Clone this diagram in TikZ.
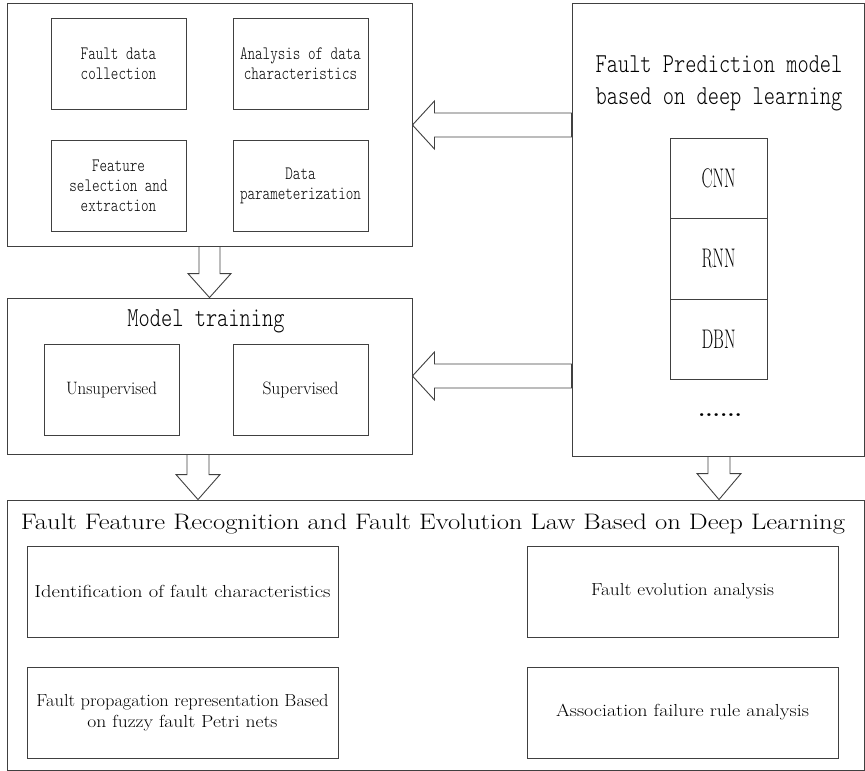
\documentclass[tikz,border=0pt]{standalone}
\usepackage{graphicx}
\usetikzlibrary{calc}

\newcommand{\narrow}[2]{\scalebox{#1}[1]{#2}}
\newcommand{\squeeze}[2]{\resizebox{#1}{\height}{#2}}

\begin{document}
\begin{tikzpicture}[x=1bp,y=-1bp]

\tikzstyle{every node}=[inner sep=0pt,anchor=center,align=center];
\tikzstyle{frame}=[draw=black!75,line width=0.9bp];
\tikzstyle{cell}=[frame,minimum width=135bp,minimum height=91bp];
\tikzstyle{wide}=[frame,minimum width=311bp,minimum height=91bp,font=\fontsize{17.5}{21}\selectfont];
\tikzstyle{net}=[frame,minimum width=97bp,minimum height=80.5bp,font=\fontsize{27}{30}\selectfont];
\tikzstyle{mono}=[font=\ttfamily\fontseries{l}\fontsize{19}{20}\selectfont];
\tikzstyle{hollow}=[draw=black!75,line width=0.9bp];

\useasboundingbox (0,0) rectangle (865,771);

% Data preparation
\node[frame,minimum width=405bp,minimum height=243bp] (prep) at (209.5,124.5) {};
\node[cell,mono] (collect) at (118.5,63.5) {\narrow{0.76}{Fault data}\\\narrow{0.76}{collection}};
\node[cell,mono] (analyse) at (300.5,63.5) {\narrow{0.76}{Analysis of data}\\\narrow{0.76}{characteristics}};
\node[cell,mono] (select) at (118.5,185.5) {\narrow{0.76}{Feature}\\\narrow{0.76}{selection and}\\\narrow{0.76}{extraction}};
\node[cell,mono] (param) at (300.5,185.5) {\narrow{0.76}{Data}\\\narrow{0.76}{parameterization}};

% Prediction model
\node[frame,minimum width=292bp,minimum height=453bp] (pred) at (718,229.5) {};
\node[font=\ttfamily\fontseries{l}\fontsize{27.5}{32}\selectfont] (predtitle) at (719,83) {\narrow{0.78}{Fault Prediction model}\\\narrow{0.78}{based on deep learning}};
\node[net] (cnn) at (718.5,178.5) {\squeeze{34bp}{CNN}};
\node[net] (rnn) at (718.5,259) {\squeeze{34bp}{RNN}};
\node[net] (dbn) at (718.5,339.5) {\squeeze{34bp}{DBN}};
\node[font=\fontsize{20}{20}\selectfont\bfseries] (more) at (720,415) {\squeeze{44bp}{......}};

% Model training
\node[frame,minimum width=405bp,minimum height=156bp] (train) at (209.5,376) {};
\node[font=\ttfamily\fontseries{l}\fontsize{27.5}{30}\selectfont] (traintitle) at (206,321) {\narrow{0.78}{Model training}};
\node[cell,font=\fontsize{18}{20}\selectfont] (unsup) at (111.5,390) {\squeeze{91bp}{Unsupervised}};
\node[cell,font=\fontsize{18}{20}\selectfont] (sup) at (300.5,390) {\squeeze{76bp}{Supervised}};

% Recognition and evolution
\node[frame,minimum width=857bp,minimum height=270bp] (fault) at (435.5,635) {};
\node[font=\fontsize{22.5}{26}\selectfont] (faulttitle) at (433,524) {\squeeze{824bp}{Fault Feature Recognition and Fault Evolution Law Based on Deep Learning}};
\node[wide] (ident) at (182.5,591.5) {\squeeze{296bp}{Identification of fault characteristics}};
\node[wide] (evol) at (682.5,591.5) {\squeeze{183bp}{Fault evolution analysis}};
\node[wide] (propag) at (182.5,712.5) {\squeeze{292bp}{Fault propagation representation Based}\\\squeeze{190bp}{on fuzzy fault Petri nets}};
\node[wide] (assoc) at (682.5,712.5) {\squeeze{253bp}{Association failure rule analysis}};

% Hollow arrows
\draw[hollow] (prep.east |- 0,125) -- ++(22,-24) -- ++(0,12) -- (pred.west |- 0,113)
  -- (pred.west |- 0,137) -- ($(prep.east |- 0,137)+(22,0)$) -- ++(0,12) -- cycle;
\draw[hollow] (train.east |- 0,376) -- ++(22,-24) -- ++(0,12) -- (pred.west |- 0,364)
  -- (pred.west |- 0,388) -- ($(train.east |- 0,388)+(22,0)$) -- ++(0,12) -- cycle;
\draw[hollow] (train.north) -- ++(-21.5,-24) -- ++(11,0) -- ($(prep.south)+(-10.5,0)$)
  -- ($(prep.south)+(10.5,0)$) -- ($(train.north)+(10.5,-24)$) -- ++(11,0) -- cycle;
\draw[hollow] ($(train.south |- fault.north)+(-11.5,0)$) -- ++(-22,-25) -- ++(11,0) -- ($(train.south)+(-22.5,0)$)
  -- ($(train.south)+(-0.5,0)$) -- ($(train.south |- fault.north)+(-0.5,-25)$) -- ++(11,0) -- cycle;
\draw[hollow] ($(pred.south |- fault.north)+(1,0)$) -- ++(-22,-26) -- ++(11,0) -- ($(pred.south)+(-10,0)$)
  -- ($(pred.south)+(12,0)$) -- ($(pred.south |- fault.north)+(12,-26)$) -- ++(11,0) -- cycle;

\end{tikzpicture}
\end{document}
